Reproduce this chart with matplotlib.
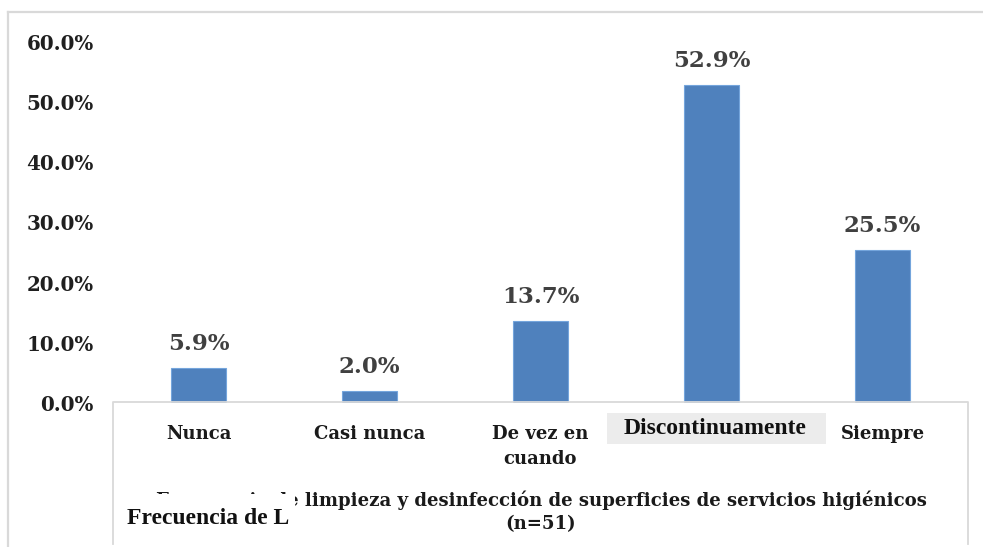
import matplotlib
matplotlib.use("Agg")
import matplotlib.pyplot as plt
from matplotlib.patches import Rectangle
from matplotlib.lines import Line2D
import matplotlib.transforms as mtransforms

# data
categorias = ["Nunca", "Casi nunca", "De vez en\ncuando", "Discontinuamente", "Siempre"]
porcentajes = [5.9, 2.0, 13.7, 52.9, 25.5]
ticks_y = [0, 10, 20, 30, 40, 50, 60]
ticks_y_labels = ["0.0%", "10.0%", "20.0%", "30.0%", "40.0%", "50.0%", "60.0%"]
titulo = "Frecuencia de limpieza y desinfección de superficies de servicios higiénicos\n(n=51)"

W, H = 983, 547
fig = plt.figure(figsize=(W / 100, H / 100), dpi=100)
fig.patch.set_facecolor("white")

# outer frame (top + left only)
fig.add_artist(Line2D([8 / W, 8 / W], [0, 1 - 12 / H], transform=fig.transFigure,
                      color="#d9d9d9", lw=1.6))
fig.add_artist(Line2D([8 / W, 1], [1 - 12 / H, 1 - 12 / H], transform=fig.transFigure,
                      color="#d9d9d9", lw=1.6))

ax = fig.add_axes([113 / W, 144 / H, 855 / W, 361 / H])
ax.set_facecolor("none")
x = list(range(len(categorias)))
bars = ax.bar(x, porcentajes, width=0.32, color="#4f81bd", edgecolor="#74a5dc",
              linewidth=0.8, zorder=3)
ax.set_xlim(-0.5, len(categorias) - 0.5)
ax.set_ylim(0, 60)

for s in ax.spines.values():
    s.set_visible(False)

ax.set_yticks(ticks_y)
ax.set_yticklabels(ticks_y_labels, fontfamily="DejaVu Serif", fontweight="bold",
                   fontsize=14.3, color="#1f1f1f")
ax.tick_params(axis="y", length=0, pad=14)

ax.set_xticks(x)
ax.set_xticklabels(categorias, fontfamily="DejaVu Serif", fontweight="bold",
                   fontsize=13, color="#1a1a1a", linespacing=1.45)
ax.tick_params(axis="x", length=0, pad=16)
# the "Discontinuamente" label is drawn separately
ax.get_xticklabels()[3].set_visible(False)

for b, v in zip(bars, porcentajes):
    ax.annotate(f"{v:.1f}%", (b.get_x() + b.get_width() / 2, v),
                xytext=(0, 9), textcoords="offset points", ha="center", va="bottom",
                fontfamily="DejaVu Serif", fontweight="bold", fontsize=16.5,
                color="#404040", zorder=4)

# white box under the axis (left, top, right edges)
fig.add_artist(Line2D([113 / W, 113 / W, 968 / W, 968 / W],
                      [0.005, 1 - 402 / H, 1 - 402 / H, 0.005],
                      transform=fig.transFigure, color="#d9d9d9", lw=1.3, zorder=2))

# highlighted category label
blend = mtransforms.blended_transform_factory(ax.transData, ax.transAxes)
ax.add_patch(Rectangle((3 - 0.61, -0.1136), 1.28, 0.0859, transform=blend,
                       facecolor="#ececec", edgecolor="none", clip_on=False, zorder=1))
ax.text(3.02, -0.072, categorias[3], transform=blend, ha="center", va="center",
        fontfamily="Liberation Serif", fontweight="bold", fontsize=17, color="#111111")

# title below chart
fig.text(541 / W, 1 - 512 / H, titulo, ha="center", va="center",
         fontfamily="DejaVu Serif", fontweight="bold", fontsize=13.1,
         color="#1a1a1a", linespacing=1.4)

# pasted patch over the title start
fig.add_artist(Rectangle((116 / W, 6 / H), 179 / W, (547 - 494 - 6) / H,
                         transform=fig.transFigure, facecolor="white",
                         edgecolor="none", zorder=5))
fig.text(127 / W, 1 - 519 / H, "Frecuencia de L", ha="left", va="center",
         fontfamily="Liberation Serif", fontweight="bold", fontsize=17,
         color="#111111", zorder=6)

fig.savefig("out.png", dpi=100)
